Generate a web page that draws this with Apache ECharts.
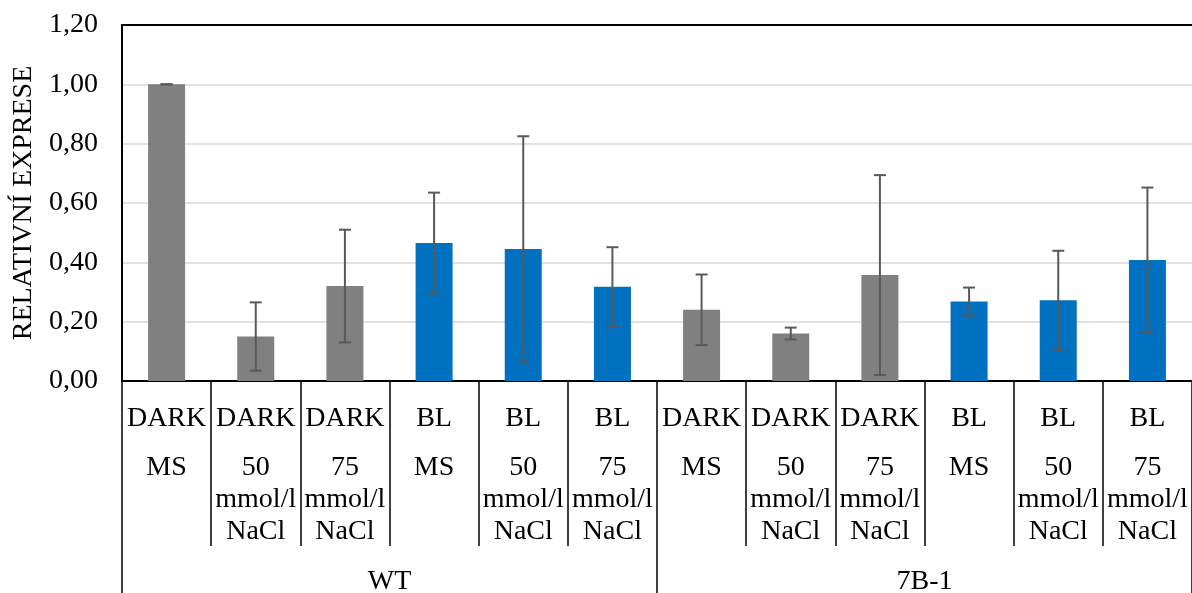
<!DOCTYPE html>
<html>
<head>
<meta charset="utf-8">
<script src="https://cdn.jsdelivr.net/npm/echarts@6/dist/echarts.min.js"></script>
<style>
html,body{margin:0;padding:0;background:#fff;}
#chart{width:1192px;height:593px;}
</style>
</head>
<body>
<div id="chart"></div>
<script>
// ---- data ----
const light = ['DARK','DARK','DARK','BL','BL','BL','DARK','DARK','DARK','BL','BL','BL'];
const medium = ['MS','50 mmol/l NaCl','75 mmol/l NaCl','MS','50 mmol/l NaCl','75 mmol/l NaCl',
                'MS','50 mmol/l NaCl','75 mmol/l NaCl','MS','50 mmol/l NaCl','75 mmol/l NaCl'];
const genotypes = ['WT','7B-1'];
const values = [1.00, 0.15, 0.32, 0.465, 0.445, 0.318, 0.24, 0.16, 0.357, 0.268, 0.272, 0.408];
const errors = [0.0, 0.115, 0.19, 0.17, 0.38, 0.133, 0.119, 0.02, 0.337, 0.047, 0.167, 0.244];
const yTicks = [0, 0.2, 0.4, 0.6, 0.8, 1.0, 1.2];
const yTitle = 'RELATIVNÍ EXPRESE';

// ---- styles ----
const FONT = "'Liberation Serif','Times New Roman',serif";
const GRAY = '#808080';
const BLUE = '#0070C0';
const categories = light.map((l, i) => i);

const chart = echarts.init(document.getElementById('chart'), null, {renderer: 'canvas'});

function catLabel(idx) {
  const i = Number(idx);
  const parts = medium[i].replace(' mmol/l', '\nmmol/l').replace(' NaCl', '\nNaCl').split('\n');
  return '{a|' + light[i] + '}\n{sp| }\n' + parts.map(p => '{b|' + p + '}').join('\n');
}

const option = {
  animation: false,
  backgroundColor: '#fff',
  grid: {left: 122, right: 0, top: 25, bottom: 212, containLabel: false, outerBoundsMode: 'none'},
  xAxis: [
    {
      type: 'category',
      data: categories,
      position: 'bottom',
      axisLine: {show: true, lineStyle: {color: '#000', width: 2}},
      axisTick: {show: true, interval: 0, length: 165, lineStyle: {color: '#000', width: 1.5}},
      axisLabel: {
        interval: 0, margin: 22, formatter: catLabel,
        rich: {
          a: {fontFamily: FONT, fontSize: 28, color: '#000', lineHeight: 32, align: 'center'},
          sp: {fontFamily: FONT, fontSize: 10, lineHeight: 17},
          b: {fontFamily: FONT, fontSize: 28, color: '#000', lineHeight: 32, align: 'center'}
        }
      },
      splitLine: {show: false}
    },
    {
      type: 'category',
      data: genotypes,
      position: 'bottom',
      axisLine: {show: false},
      axisTick: {show: true, interval: 0, length: 212, lineStyle: {color: '#000', width: 1.5}},
      axisLabel: {interval: 0, margin: 191, fontFamily: FONT, fontSize: 28, color: '#000', lineHeight: 20},
      splitLine: {show: false}
    },
    {
      type: 'category',
      data: categories,
      position: 'top',
      axisLine: {show: true, lineStyle: {color: '#000', width: 2}},
      axisTick: {show: false},
      axisLabel: {show: false},
      splitLine: {show: false}
    }
  ],
  yAxis: {
    type: 'value',
    min: yTicks[0],
    max: yTicks[yTicks.length - 1],
    interval: yTicks[1] - yTicks[0],
    name: yTitle,
    nameLocation: 'middle',
    nameRotate: 90,
    nameGap: 84,
    nameTextStyle: {fontFamily: FONT, fontSize: 28, color: '#000'},
    axisLine: {show: true, lineStyle: {color: '#000', width: 2}},
    axisTick: {show: false},
    axisLabel: {
      margin: 24, fontFamily: FONT, fontSize: 28, color: '#000',
      formatter: v => v.toFixed(2).replace('.', ',')
    },
    splitLine: {show: true, lineStyle: {color: '#d9d9d9', width: 1.5}}
  },
  series: [
    {
      type: 'bar',
      xAxisIndex: 0,
      barWidth: '41.5%',
      data: values.map((v, i) => ({
        value: v,
        itemStyle: {color: light[i] === 'DARK' ? GRAY : BLUE}
      })),
      z: 2
    },
    {
      type: 'custom',
      xAxisIndex: 0,
      data: values.map((v, i) => [i, v, errors[i]]),
      z: 5,
      renderItem: function (params, api) {
        const x = api.value(0), y = api.value(1), e = api.value(2);
        const top = api.coord([x, y + e]);
        const bot = api.coord([x, y - e]);
        const hw = 6;
        const style = {stroke: '#595959', lineWidth: 2, fill: null};
        return {
          type: 'group',
          children: [
            {type: 'line', shape: {x1: top[0], y1: top[1], x2: bot[0], y2: bot[1]}, style: style},
            {type: 'line', shape: {x1: top[0] - hw, y1: top[1], x2: top[0] + hw, y2: top[1]}, style: style},
            {type: 'line', shape: {x1: bot[0] - hw, y1: bot[1], x2: bot[0] + hw, y2: bot[1]}, style: style}
          ]
        };
      }
    }
  ]
};
chart.setOption(option);
</script>
</body>
</html>
